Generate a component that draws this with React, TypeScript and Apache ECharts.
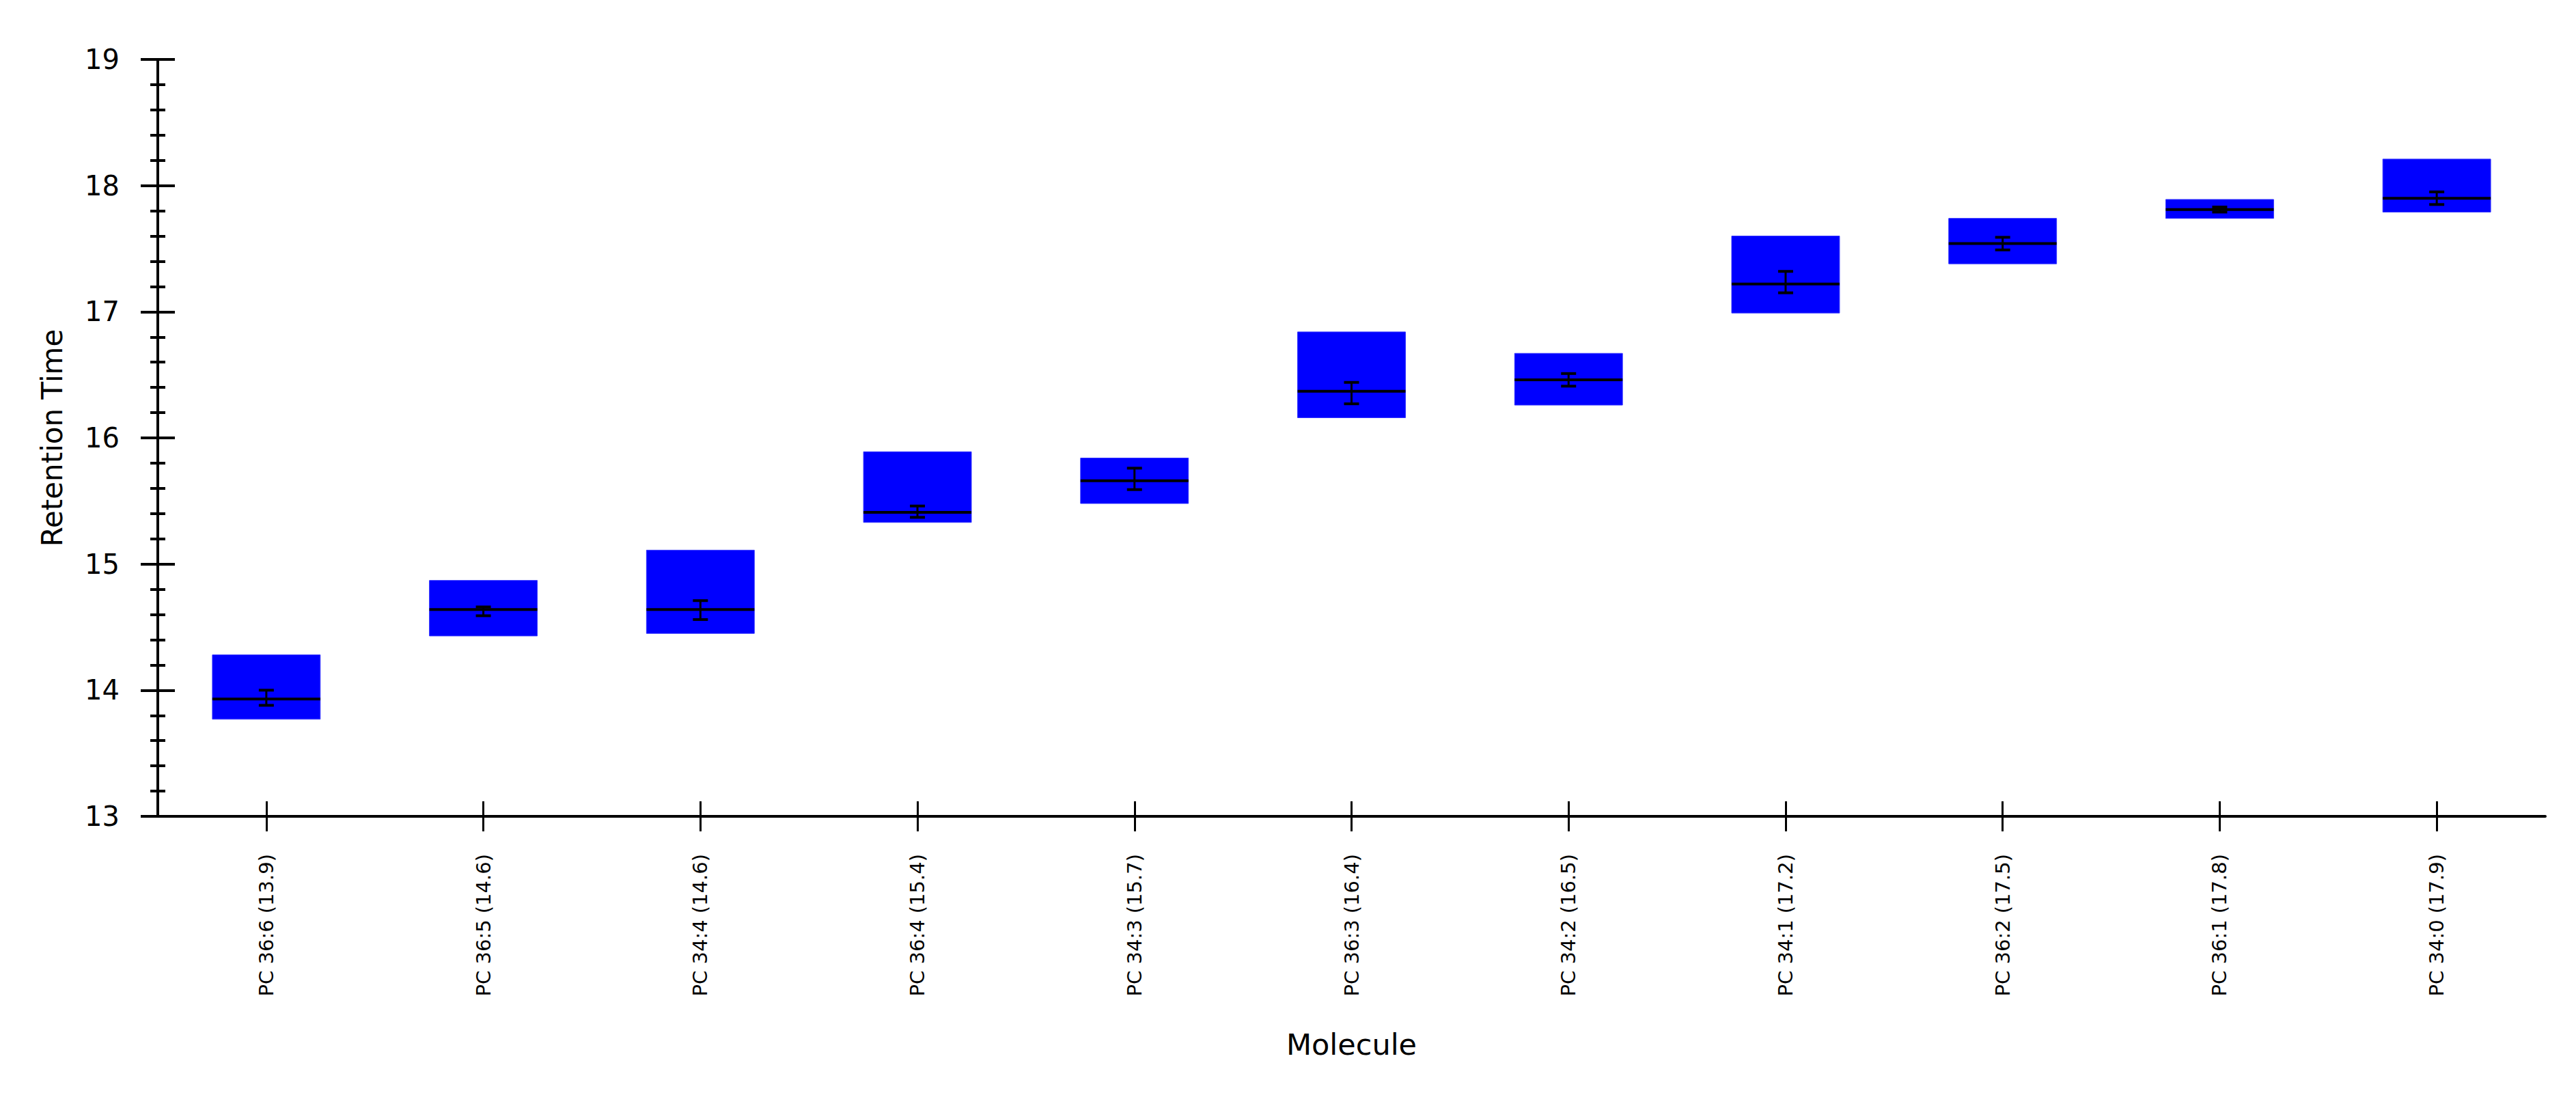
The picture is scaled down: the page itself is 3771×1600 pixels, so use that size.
import React, { useEffect, useRef } from "react";
import * as echarts from "echarts";

const categories = [
  "PC 36:6 (13.9)",
  "PC 36:5 (14.6)",
  "PC 34:4 (14.6)",
  "PC 36:4 (15.4)",
  "PC 34:3 (15.7)",
  "PC 36:3 (16.4)",
  "PC 34:2 (16.5)",
  "PC 34:1 (17.2)",
  "PC 36:2 (17.5)",
  "PC 36:1 (17.8)",
  "PC 34:0 (17.9)",
];
const boxLow = [13.77, 14.43, 14.45, 15.33, 15.48, 16.16, 16.26, 16.99, 17.38, 17.74, 17.79];
const boxHigh = [14.28, 14.87, 15.11, 15.89, 15.84, 16.84, 16.67, 17.6, 17.74, 17.89, 18.21];
const medians = [13.93, 14.64, 14.64, 15.41, 15.66, 16.37, 16.46, 17.22, 17.54, 17.81, 17.9];
const errLow = [13.88, 14.59, 14.56, 15.37, 15.59, 16.27, 16.41, 17.15, 17.49, 17.79, 17.85];
const errHigh = [14.0, 14.66, 14.71, 15.46, 15.76, 16.44, 16.51, 17.32, 17.59, 17.83, 17.95];

const yMin = 13;
const yMax = 19;
const yInterval = 1;

const FONT = "DejaVu Sans";

export default function App() {
  const ref = useRef<HTMLDivElement>(null);
  useEffect(() => {
    document.body.style.margin = "0";
    if (!ref.current) return;
    const chart = echarts.init(ref.current, null, { renderer: "svg" });
    const data = categories.map((_, i) => [i, boxLow[i], boxHigh[i], medians[i], errLow[i], errHigh[i]]);
    const yCommon = {
      type: "value",
      position: "left",
      min: yMin,
      max: yMax,
      interval: yInterval,
      splitLine: { show: false },
      minorSplitLine: { show: false },
    };
    chart.setOption({
      animation: false,
      backgroundColor: "#ffffff",
      grid: { left: 231, right: 45, top: 87, bottom: 405, containLabel: false },
      xAxis: [
        {
          type: "category",
          position: "bottom",
          data: categories,
          boundaryGap: true,
          axisLine: { show: true, lineStyle: { color: "#000", width: 4 } },
          axisTick: { show: true, alignWithLabel: true, inside: false, length: 22, lineStyle: { color: "#000", width: 3 } },
          axisLabel: { rotate: 90, margin: 55, fontSize: 29, fontFamily: FONT, color: "#000", interval: 0 },
          splitLine: { show: false },
          name: "Molecule",
          nameLocation: "middle",
          nameGap: 312,
          nameTextStyle: { fontSize: 43, fontFamily: FONT, color: "#000" },
        },
        {
          type: "category",
          position: "bottom",
          data: categories,
          boundaryGap: true,
          axisLine: { show: false },
          axisTick: { show: true, alignWithLabel: true, inside: true, length: 22, lineStyle: { color: "#000", width: 3 } },
          axisLabel: { show: false },
          splitLine: { show: false },
        },
      ],
      yAxis: [
        {
          ...yCommon,
          axisLine: { show: true, lineStyle: { color: "#000", width: 4 } },
          axisTick: { show: true, inside: false, length: 25, lineStyle: { color: "#000", width: 4 } },
          minorTick: { show: true, splitNumber: 5, length: 11, lineStyle: { color: "#000", width: 4 } },
          axisLabel: { margin: 56, fontSize: 40, fontFamily: FONT, color: "#000" },
          name: "Retention Time",
          nameLocation: "middle",
          nameGap: 134,
          nameTextStyle: { fontSize: 42, fontFamily: FONT, color: "#000" },
        },
        {
          ...yCommon,
          axisLine: { show: false },
          axisTick: { show: true, inside: true, length: 25, lineStyle: { color: "#000", width: 4 } },
          minorTick: { show: true, splitNumber: 5, length: 11, lineStyle: { color: "#000", width: 4 } },
          axisLabel: { show: false },
        },
      ],
      series: [
        {
          type: "custom",
          xAxisIndex: 0,
          yAxisIndex: 0,
          data,
          encode: { x: 0, y: [1, 2, 3, 4, 5] },
          renderItem: (params: any, api: any) => {
            const xi = api.value(0);
            const lo = api.coord([xi, api.value(1)]);
            const hi = api.coord([xi, api.value(2)]);
            const med = api.coord([xi, api.value(3)]);
            const eLo = api.coord([xi, api.value(4)]);
            const eHi = api.coord([xi, api.value(5)]);
            const band = api.size([1, 0])[0];
            const w = band * 0.497;
            const cx = lo[0];
            const capW = 22;
            return {
              type: "group",
              children: [
                {
                  type: "rect",
                  shape: { x: cx - w / 2, y: hi[1], width: w, height: lo[1] - hi[1] },
                  style: { fill: "#0000ff", stroke: "#3333ff", lineWidth: 1 },
                },
                {
                  type: "line",
                  shape: { x1: cx - w / 2, y1: med[1], x2: cx + w / 2, y2: med[1] },
                  style: { stroke: "#000", lineWidth: 4 },
                },
                {
                  type: "line",
                  shape: { x1: cx, y1: eLo[1], x2: cx, y2: eHi[1] },
                  style: { stroke: "#000", lineWidth: 3 },
                },
                {
                  type: "line",
                  shape: { x1: cx - capW / 2, y1: eLo[1], x2: cx + capW / 2, y2: eLo[1] },
                  style: { stroke: "#000", lineWidth: 4 },
                },
                {
                  type: "line",
                  shape: { x1: cx - capW / 2, y1: eHi[1], x2: cx + capW / 2, y2: eHi[1] },
                  style: { stroke: "#000", lineWidth: 4 },
                },
              ],
            };
          },
        },
      ],
    });
    return () => chart.dispose();
  }, []);
  return <div ref={ref} style={{ width: 3771, height: 1600 }} />;
}
